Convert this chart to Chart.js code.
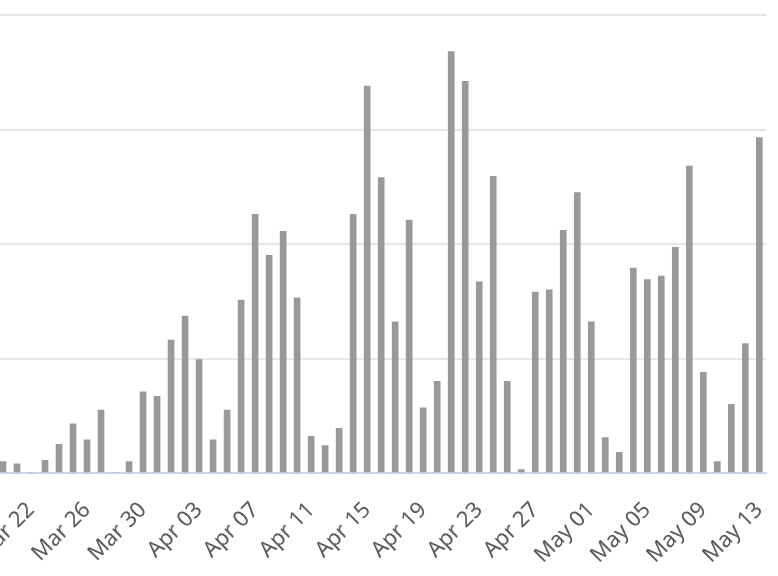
<!DOCTYPE html>
<html>
<head>
<meta charset="utf-8">
<script src="https://cdn.jsdelivr.net/npm/chart.js@4"></script>
<style>
  html, body { margin: 0; padding: 0; background: #fff; overflow: hidden; }
  #frame { position: relative; width: 778px; height: 576px; overflow: hidden; }
  #wrap { position: absolute; left: -44px; top: 0; width: 838px; height: 576px; }
</style>
</head>
<body>
<div id="frame"><div id="wrap"><canvas id="bar-chart"></canvas></div></div>
<script>
// daily values, Mar 20 .. May 13
const days = [
    'Mar 20', 'Mar 21', 'Mar 22', 'Mar 23', 'Mar 24', 'Mar 25', 'Mar 26', 'Mar 27', 'Mar 28', 'Mar 29',
    'Mar 30', 'Mar 31', 'Apr 01', 'Apr 02', 'Apr 03', 'Apr 04', 'Apr 05', 'Apr 06', 'Apr 07', 'Apr 08',
    'Apr 09', 'Apr 10', 'Apr 11', 'Apr 12', 'Apr 13', 'Apr 14', 'Apr 15', 'Apr 16', 'Apr 17', 'Apr 18',
    'Apr 19', 'Apr 20', 'Apr 21', 'Apr 22', 'Apr 23', 'Apr 24', 'Apr 25', 'Apr 26', 'Apr 27', 'Apr 28',
    'Apr 29', 'Apr 30', 'May 01', 'May 02', 'May 03', 'May 04', 'May 05', 'May 06', 'May 07', 'May 08',
    'May 09', 'May 10', 'May 11', 'May 12', 'May 13'
];
const counts = [
    10, 8, 0, 11, 25, 43, 29, 55, 0, 10,
    71, 67, 116, 137, 99, 29, 55, 151, 226, 190,
    211, 153, 32, 24, 39, 226, 338, 258, 132, 221,
    57, 80, 368, 342, 167, 259, 80, 3, 158, 160,
    212, 245, 132, 31, 18, 179, 169, 172, 197, 268,
    88, 10, 60, 113, 293
];
const yTicks = [0, 100, 200, 300, 400];

new Chart(document.getElementById('bar-chart'), {
    type: 'bar',
    data: {
        labels: days,
        datasets: [{
            label: 'Count',
            data: counts,
            backgroundColor: '#999999',
            barThickness: 6,
        }]
    },
    options: {
        responsive: true,
        maintainAspectRatio: false,
        animation: false,
        layout: { padding: { top: 15, right: 0, left: 0, bottom: 0 } },
        plugins: {
            legend: { display: false },
            tooltip: { enabled: false }
        },
        scales: {
            x: {
                grid: { display: false },
                border: { display: true, color: '#ccd6eb', width: 2 },
                afterFit: s => { s.height = 103; },
                ticks: {
                    autoSkip: false,
                    minRotation: 45,
                    maxRotation: 45,
                    padding: 16,
                    color: '#595959',
                    font: { family: 'Noto Sans', size: 22 },
                    callback: function (val, i) {
                        return i % 4 === 2 ? this.getLabelForValue(val) : null;
                    }
                }
            },
            y: {
                min: yTicks[0],
                max: yTicks[yTicks.length - 1],
                afterFit: s => { s.width = 40; },
                afterBuildTicks: s => { s.ticks = yTicks.map(v => ({ value: v })); },
                border: { display: false },
                grid: {
                    lineWidth: 2,
                    drawTicks: false,
                    color: c => c.tick && c.tick.value === 0 ? 'rgba(0,0,0,0)' : '#e6e6e6'
                },
                ticks: { display: false }
            }
        }
    }
});
</script>
</body>
</html>
